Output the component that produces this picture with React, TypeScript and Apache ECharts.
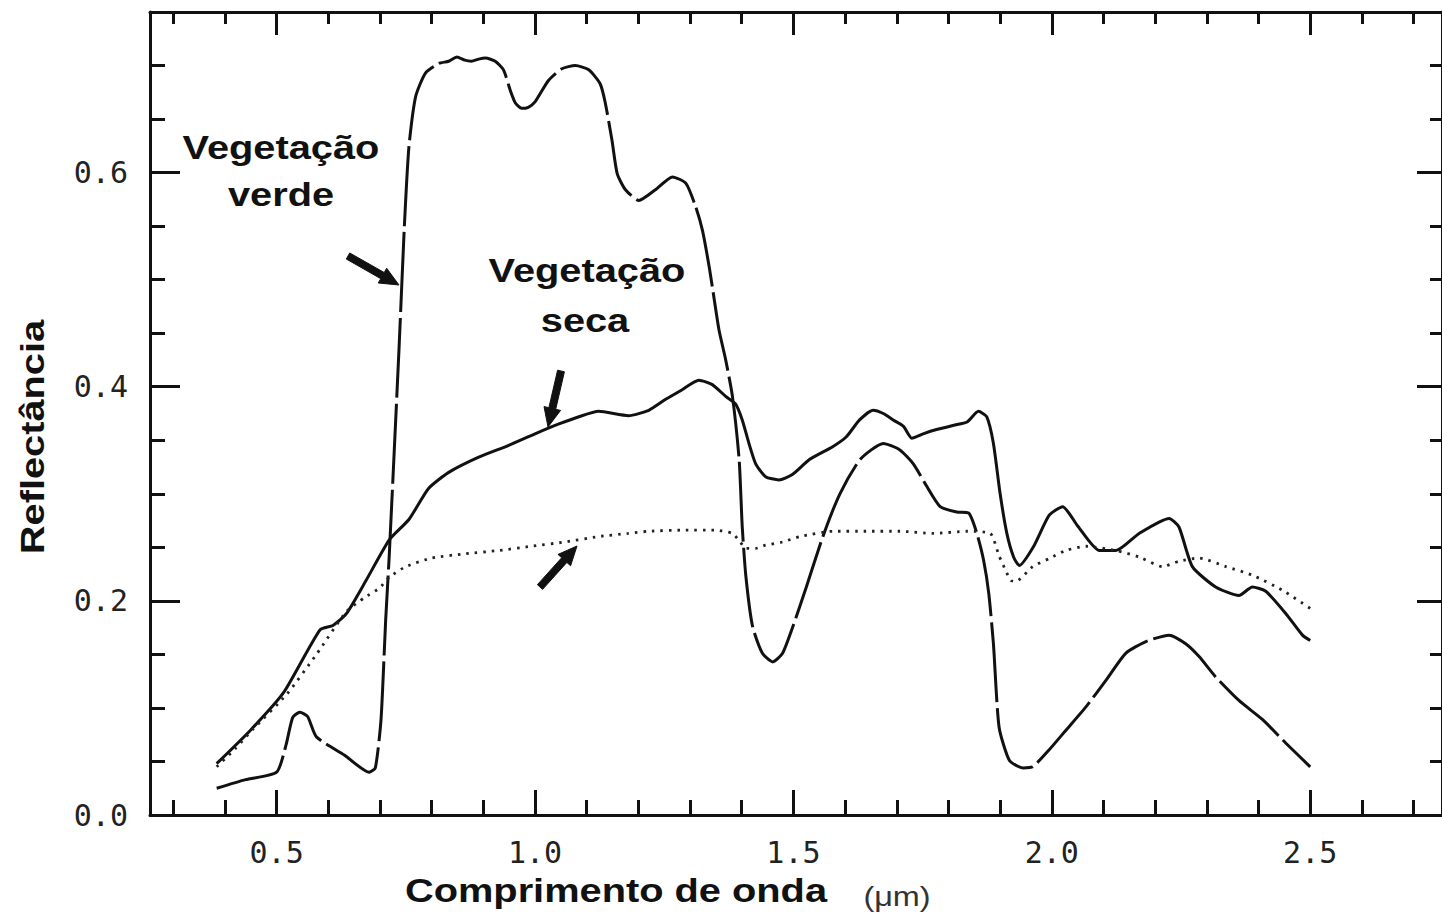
import React, { useEffect, useRef } from "react";
import * as echarts from "echarts";

// ---- Data (wavelength in µm, reflectance) ----
const vegetacaoVerde: [number, number][] = [
  [0.384, 0.025], [0.44, 0.033], [0.5, 0.04], [0.518, 0.065], [0.531, 0.091], [0.545, 0.096],
  [0.56, 0.092], [0.577, 0.073], [0.631, 0.056], [0.679, 0.04], [0.691, 0.044], [0.702, 0.089],
  [0.711, 0.182], [0.718, 0.243], [0.737, 0.437], [0.747, 0.548], [0.756, 0.624], [0.769, 0.671],
  [0.788, 0.693], [0.814, 0.702], [0.833, 0.704], [0.849, 0.708], [0.864, 0.705], [0.877, 0.704],
  [0.891, 0.706], [0.904, 0.707], [0.923, 0.704], [0.939, 0.696], [0.952, 0.677], [0.962, 0.665],
  [0.974, 0.66], [0.987, 0.661], [1.0, 0.666], [1.026, 0.686], [1.052, 0.697], [1.078, 0.7],
  [1.104, 0.696], [1.126, 0.683], [1.136, 0.665], [1.149, 0.63], [1.159, 0.599], [1.175, 0.584],
  [1.201, 0.574], [1.233, 0.584], [1.266, 0.596], [1.292, 0.59], [1.311, 0.568], [1.324, 0.546],
  [1.337, 0.512], [1.346, 0.484], [1.356, 0.453], [1.369, 0.425], [1.382, 0.391], [1.395, 0.332],
  [1.401, 0.269], [1.408, 0.223], [1.421, 0.176], [1.44, 0.151], [1.46, 0.143], [1.479, 0.151],
  [1.499, 0.176], [1.525, 0.213], [1.557, 0.26], [1.59, 0.3], [1.629, 0.332], [1.674, 0.347],
  [1.706, 0.341], [1.732, 0.328], [1.758, 0.307], [1.784, 0.288], [1.816, 0.283], [1.839, 0.282],
  [1.855, 0.263], [1.868, 0.238], [1.878, 0.207], [1.887, 0.16], [1.898, 0.082], [1.918, 0.051],
  [1.944, 0.044], [1.963, 0.045], [1.995, 0.061], [2.027, 0.079], [2.066, 0.101], [2.105, 0.126],
  [2.143, 0.151], [2.182, 0.162], [2.227, 0.168], [2.259, 0.16], [2.285, 0.148], [2.317, 0.129],
  [2.362, 0.107], [2.408, 0.089], [2.453, 0.067], [2.5, 0.045],
];

const vegetacaoSeca: [number, number][] = [
  [0.384, 0.048], [0.449, 0.079], [0.513, 0.114], [0.584, 0.173], [0.609, 0.177], [0.635, 0.188],
  [0.673, 0.219], [0.718, 0.257], [0.756, 0.276], [0.794, 0.305], [0.833, 0.32], [0.89, 0.334],
  [0.948, 0.345], [1.0, 0.356], [1.045, 0.365], [1.085, 0.372], [1.123, 0.377], [1.181, 0.373],
  [1.22, 0.378], [1.252, 0.388], [1.284, 0.397], [1.317, 0.406], [1.343, 0.402], [1.369, 0.391],
  [1.388, 0.384], [1.401, 0.369], [1.414, 0.347], [1.427, 0.328], [1.446, 0.316], [1.472, 0.313],
  [1.498, 0.318], [1.531, 0.332], [1.576, 0.344], [1.602, 0.353], [1.628, 0.369], [1.654, 0.378],
  [1.674, 0.375], [1.693, 0.369], [1.713, 0.363], [1.729, 0.352], [1.751, 0.356], [1.777, 0.36],
  [1.81, 0.364], [1.836, 0.367], [1.858, 0.377], [1.874, 0.372], [1.887, 0.347], [1.9, 0.3],
  [1.913, 0.263], [1.926, 0.241], [1.937, 0.233], [1.965, 0.251], [1.995, 0.28], [2.021, 0.288],
  [2.05, 0.27], [2.092, 0.247], [2.124, 0.247], [2.169, 0.263], [2.227, 0.277], [2.246, 0.269],
  [2.272, 0.232], [2.317, 0.213], [2.362, 0.205], [2.388, 0.213], [2.414, 0.209], [2.453, 0.188],
  [2.485, 0.168], [2.5, 0.163],
];

const curvaPontilhada: [number, number][] = [
  [0.384, 0.045], [0.42, 0.062], [0.454, 0.08], [0.52, 0.113], [0.577, 0.15], [0.635, 0.19],
  [0.67, 0.203], [0.699, 0.212], [0.718, 0.222], [0.75, 0.232], [0.8, 0.24], [0.865, 0.244],
  [0.929, 0.247], [0.993, 0.251], [1.058, 0.255], [1.122, 0.26], [1.18, 0.263], [1.22, 0.265],
  [1.284, 0.266], [1.349, 0.266], [1.382, 0.263], [1.397, 0.255], [1.408, 0.249], [1.427, 0.249],
  [1.446, 0.252], [1.479, 0.255], [1.512, 0.26], [1.576, 0.265], [1.641, 0.265], [1.706, 0.265],
  [1.771, 0.263], [1.836, 0.265], [1.881, 0.263], [1.898, 0.242], [1.913, 0.226], [1.921, 0.219],
  [1.93, 0.218], [1.963, 0.232], [1.997, 0.24], [2.027, 0.247], [2.066, 0.251], [2.124, 0.247],
  [2.169, 0.241], [2.214, 0.232], [2.246, 0.237], [2.285, 0.24], [2.337, 0.232], [2.388, 0.224],
  [2.446, 0.21], [2.5, 0.193],
];

const xMajorTicks = [0.5, 1.0, 1.5, 2.0, 2.5];
const xMinorTicks = [0.3, 0.4, 0.5, 0.6, 0.7, 0.8, 0.9, 1.0, 1.1, 1.2, 1.3, 1.4, 1.5, 1.6, 1.7, 1.8, 1.9, 2.0, 2.1, 2.2, 2.3, 2.4, 2.5, 2.6, 2.7];
const yMajorTicks = [0.0, 0.2, 0.4, 0.6];
const yMinorTicks = [0.05, 0.1, 0.15, 0.2, 0.25, 0.3, 0.35, 0.4, 0.45, 0.5, 0.55, 0.6, 0.65, 0.7];

const X_MIN = 0.255;
const X_MAX = 2.755;
const Y_MIN = 0;
const Y_MAX = 0.75;

const INK = "#111";
const LABEL_FONT = "'DejaVu Sans Mono', 'Liberation Mono', monospace";
const BOLD_FONT = "'Liberation Sans', Arial, sans-serif";

function arrowPoints(tx: number, ty: number, hx: number, hy: number, shaftW: number, headW: number, headL: number) {
  const dx = hx - tx;
  const dy = hy - ty;
  const L = Math.hypot(dx, dy);
  const ux = dx / L;
  const uy = dy / L;
  const nx = -uy;
  const ny = ux;
  const bx = hx - ux * headL;
  const by = hy - uy * headL;
  return [
    [tx + (nx * shaftW) / 2, ty + (ny * shaftW) / 2],
    [bx + (nx * shaftW) / 2, by + (ny * shaftW) / 2],
    [bx + (nx * headW) / 2, by + (ny * headW) / 2],
    [hx, hy],
    [bx - (nx * headW) / 2, by - (ny * headW) / 2],
    [bx - (nx * shaftW) / 2, by - (ny * shaftW) / 2],
    [tx - (nx * shaftW) / 2, ty - (ny * shaftW) / 2],
  ];
}

function xAxisDef(position: "top" | "bottom", ticks: number[], len: number, withLabels: boolean, showLine: boolean) {
  return {
    type: "value",
    gridIndex: 0,
    position,
    min: X_MIN,
    max: X_MAX,
    axisLine: { show: showLine, onZero: false, lineStyle: { color: INK, width: 3 } },
    axisTick: { show: true, inside: true, length: len, customValues: ticks, lineStyle: { color: INK, width: 3 } },
    axisLabel: withLabels
      ? {
          show: true,
          customValues: ticks,
          formatter: (v: number) => v.toFixed(1),
          fontFamily: LABEL_FONT,
          fontSize: 30,
          color: "#222",
          margin: 22,
        }
      : { show: false },
    splitLine: { show: false },
  };
}

function yAxisDef(position: "left" | "right", ticks: number[], len: number, withLabels: boolean, showLine: boolean) {
  return {
    type: "value",
    gridIndex: 0,
    position,
    min: Y_MIN,
    max: Y_MAX,
    axisLine: { show: showLine, onZero: false, lineStyle: { color: INK, width: 3 } },
    axisTick: { show: true, inside: true, length: len, customValues: ticks, lineStyle: { color: INK, width: 3 } },
    axisLabel: withLabels
      ? {
          show: true,
          customValues: ticks,
          formatter: (v: number) => v.toFixed(1),
          fontFamily: LABEL_FONT,
          fontSize: 30,
          color: "#222",
          margin: 22,
        }
      : { show: false },
    splitLine: { show: false },
  };
}

export default function App() {
  const ref = useRef<HTMLDivElement>(null);

  useEffect(() => {
    if (!ref.current) return;
    const chart = echarts.init(ref.current, undefined, { renderer: "svg" });

    const boldText = (text: string, x: number, y: number, rotation = 0) => ({
      type: "text",
      x,
      y,
      rotation,
      scaleX: 1.17,
      scaleY: 1,
      style: {
        text,
        fill: INK,
        font: `bold 34px ${BOLD_FONT}`,
        textAlign: "center",
        textVerticalAlign: "middle",
      },
    });

    const arrow = (tx: number, ty: number, hx: number, hy: number) => ({
      type: "polygon",
      shape: { points: arrowPoints(tx, ty, hx, hy, 7, 17, 19) },
      style: { fill: INK, stroke: INK, lineWidth: 1 },
    });

    chart.setOption({
      animation: false,
      backgroundColor: "#ffffff",
      grid: { left: 150, top: 12, width: 1293, height: 803, containLabel: false },
      xAxis: [
        xAxisDef("bottom", xMajorTicks, 25, true, true),
        xAxisDef("bottom", xMinorTicks, 15, false, false),
        xAxisDef("top", xMajorTicks, 23, false, true),
        xAxisDef("top", xMinorTicks, 12, false, false),
      ],
      yAxis: [
        yAxisDef("left", yMajorTicks, 30, true, true),
        yAxisDef("left", yMinorTicks, 15, false, false),
        yAxisDef("right", yMajorTicks, 25, false, true),
        yAxisDef("right", yMinorTicks, 12, false, false),
      ],
      series: [
        {
          name: "Vegetação verde",
          type: "line",
          xAxisIndex: 0,
          yAxisIndex: 0,
          data: vegetacaoVerde,
          showSymbol: false,
          smooth: 0.2,
          lineStyle: { color: INK, width: 3, type: [80, 6] },
        },
        {
          name: "Vegetação seca",
          type: "line",
          xAxisIndex: 0,
          yAxisIndex: 0,
          data: vegetacaoSeca,
          showSymbol: false,
          smooth: 0.2,
          lineStyle: { color: INK, width: 3, type: "solid" },
        },
        {
          name: "Curva pontilhada",
          type: "line",
          xAxisIndex: 0,
          yAxisIndex: 0,
          data: curvaPontilhada,
          showSymbol: false,
          smooth: 0.2,
          lineStyle: { color: "#222", width: 2.8, type: [2.5, 6] },
        },
      ],
      graphic: [
        boldText("Vegetação", 281, 148),
        boldText("verde", 281, 195),
        boldText("Vegetação", 587, 271),
        boldText("seca", 585, 321),
        boldText("Reflectância", 33, 437, Math.PI / 2),
        boldText("Comprimento de onda", 616, 891),
        {
          type: "text",
          x: 897,
          y: 896,
          scaleX: 1.2,
          style: {
            text: "(μm)",
            fill: "#333",
            font: `27px ${BOLD_FONT}`,
            textAlign: "center",
            textVerticalAlign: "middle",
          },
        },
        arrow(348, 256, 399, 285),
        arrow(561, 371, 548, 427),
        arrow(540, 587, 577, 546),
      ],
    });

    return () => chart.dispose();
  }, []);

  return (
    <div
      ref={ref}
      style={{ position: "fixed", left: 0, top: 0, width: 1442, height: 913, background: "#fff" }}
    />
  );
}
